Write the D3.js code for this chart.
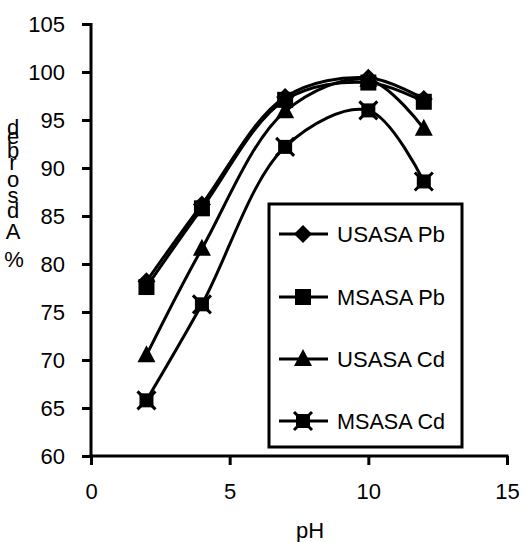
<!DOCTYPE html>
<html><head><meta charset="utf-8">
<script src="https://cdn.jsdelivr.net/npm/d3@7"></script>
<style>body{margin:0;background:#fff}svg{display:block}text{font-family:"Liberation Sans",Arial,sans-serif;fill:#000}</style>
</head><body>
<script>
const pH = [2, 4, 7, 10, 12];
const usasaPb = [78.2, 86.2, 97.4, 99.4, 97.2];
const msasaPb = [77.6, 85.8, 97.1, 98.9, 96.9];
const usasaCd = [70.5, 81.6, 95.9, 99.2, 94.1];
const msasaCd = [65.8, 75.8, 92.2, 96.0, 88.6];
const seriesNames = ["USASA Pb", "MSASA Pb", "USASA Cd", "MSASA Cd"];
const markers = ["diamond", "square", "triangle", "xstar"];
const xTicks = [0, 5, 10, 15];
const yTicks = [60, 65, 70, 75, 80, 85, 90, 95, 100, 105];
const yLabelChars = ["A","d","s","o","r","b","e","d"];

const W = 525, H = 542;
const svg = d3.select("body").append("svg").attr("width", W).attr("height", H);
const x = d3.scaleLinear().domain([0, 15]).range([91, 507]);
const y = d3.scaleLinear().domain([60, 105]).range([456, 24]);
const FS = 22;

// axes
const ya = svg.append("g").attr("transform", `translate(${x(0)},0)`)
  .call(d3.axisLeft(y).tickValues(yTicks).tickSize(9).tickPadding(17).tickSizeOuter(0));
const xa = svg.append("g").attr("transform", `translate(0,${y(60)})`)
  .call(d3.axisBottom(x).tickValues(xTicks).tickSize(9).tickPadding(18).tickSizeOuter(0));
[ya, xa].forEach(g => {
  g.selectAll("path.domain").attr("stroke", "#000").attr("stroke-width", 3);
  g.selectAll(".tick line").attr("stroke", "#000").attr("stroke-width", 3);
  g.selectAll(".tick text").style("font-size", FS + "px").attr("fill", "#000");
});
xa.select("path.domain").attr("d", `M${x(0)-1.5},0H${x(15)+1.5}`);
ya.select("path.domain").attr("d", `M0,${y(105)-1}V${y(60)}`);

// axis titles
svg.append("text").attr("x", x(7.9)).attr("y", 538).attr("text-anchor", "middle")
  .style("font-size", FS + "px").text("pH");
const lblBase = [239, 218, 203, 187, 170, 158, 144, 135];
yLabelChars.forEach((c, i) => {
  svg.append("text").attr("x", 13).attr("y", lblBase[i]).attr("text-anchor", "middle")
    .style("font-size", FS + "px").text(c);
});
svg.append("text").attr("x", 14).attr("y", 267).attr("text-anchor", "middle")
  .style("font-size", FS + "px").text("%");

// markers
function drawMarker(g, type, cx, cy) {
  if (type === "diamond") {
    g.append("path").attr("d", `M${cx},${cy-9}L${cx+9},${cy}L${cx},${cy+9}L${cx-9},${cy}Z`).attr("fill", "#000");
  } else if (type === "square") {
    g.append("rect").attr("x", cx - 8).attr("y", cy - 8).attr("width", 16).attr("height", 16).attr("fill", "#000");
  } else if (type === "triangle") {
    g.append("path").attr("d", `M${cx},${cy-10}L${cx+9},${cy+7}L${cx-9},${cy+7}Z`).attr("fill", "#000");
  } else {
    g.append("rect").attr("x", cx - 7).attr("y", cy - 7).attr("width", 14).attr("height", 14).attr("fill", "#000");
    g.append("path").attr("d", `M${cx-9},${cy-9}L${cx+9},${cy+9}M${cx+9},${cy-9}L${cx-9},${cy+9}`).attr("stroke", "#000").attr("stroke-width", 3);
  }
}

const allSeries = [usasaPb, msasaPb, usasaCd, msasaCd];
const line = d3.line().x(d => x(d[0])).y(d => y(d[1])).curve(d3.curveCatmullRom.alpha(0.5));
allSeries.forEach((vals, i) => {
  const pts = pH.map((p, j) => [p, vals[j]]);
  svg.append("path").attr("d", line(pts)).attr("fill", "none").attr("stroke", "#000").attr("stroke-width", 3);
});
allSeries.forEach((vals, i) => {
  const g = svg.append("g");
  pH.forEach((p, j) => drawMarker(g, markers[i], x(p), y(vals[j])));
});

// legend
const lg = svg.append("g");
lg.append("rect").attr("x", 269).attr("y", 204).attr("width", 193).attr("height", 243)
  .attr("fill", "#fff").attr("stroke", "#000").attr("stroke-width", 3);
const legY = [234, 297, 359, 421];
seriesNames.forEach((n, i) => {
  lg.append("line").attr("x1", 279).attr("x2", 328).attr("y1", legY[i]).attr("y2", legY[i]).attr("stroke", "#000").attr("stroke-width", 3);
  drawMarker(lg, markers[i], 303, legY[i]);
  lg.append("text").attr("x", 337).attr("y", legY[i] + 8).style("font-size", FS + "px")
    .attr("textLength", 108).attr("lengthAdjust", "spacingAndGlyphs").text(n);
});
</script>
</body></html>
